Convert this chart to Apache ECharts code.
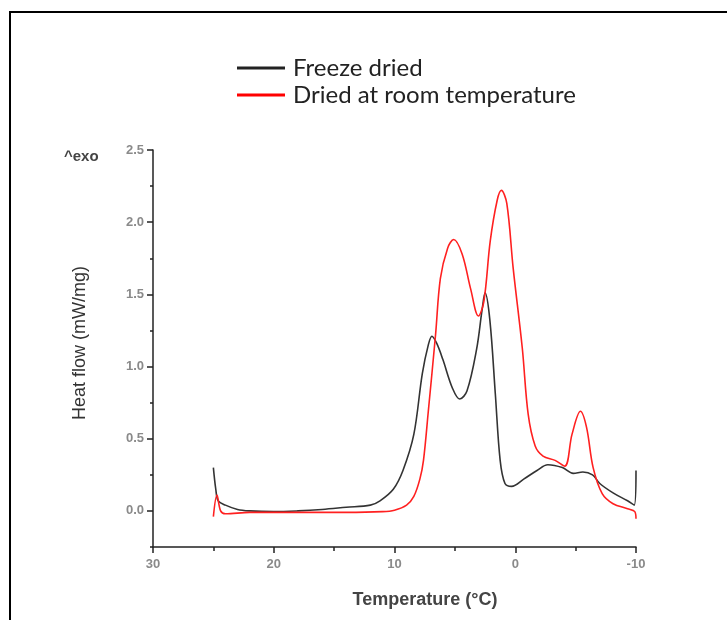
<!DOCTYPE html>
<html>
<head>
<meta charset="utf-8">
<script src="https://cdn.jsdelivr.net/npm/echarts@6/dist/echarts.min.js"></script>
<style>html,body{margin:0;padding:0;background:#fff}#c{width:727px;height:620px}</style>
</head>
<body>
<div id="c"></div>
<script>
// ---- data ----
var freezeT  = [25.0, 24.8, 24.6, 24.0, 23.0, 22.0, 20.0, 18.0, 16.0, 14.0, 12.0, 11.2, 10.1, 9.3, 8.4, 7.7, 7.2, 6.9, 6.5, 6.0, 5.2, 4.6, 4.0, 3.2, 2.75, 2.5, 2.1, 1.65, 1.25, 0.85, 0.3, -0.7, -1.8, -2.7, -3.9, -4.8, -5.6, -6.4, -7.0, -8.1, -9.3, -9.85, -10.0];
var freezeHF = [0.30, 0.15, 0.07, 0.04, 0.01, 0.0, -0.005, 0.0, 0.01, 0.025, 0.04, 0.07, 0.15, 0.28, 0.53, 0.95, 1.15, 1.21, 1.16, 1.05, 0.85, 0.775, 0.83, 1.12, 1.39, 1.51, 1.32, 0.81, 0.35, 0.19, 0.17, 0.22, 0.28, 0.32, 0.30, 0.26, 0.27, 0.25, 0.19, 0.125, 0.07, 0.04, 0.28];
var roomT  = [25.0, 24.7, 24.4, 24.0, 22.0, 18.0, 14.0, 11.0, 10.0, 9.0, 8.4, 7.9, 7.6, 7.2, 6.6, 6.2, 5.6, 5.1, 4.4, 3.7, 3.05, 2.6, 2.07, 1.5, 1.15, 0.7, 0.17, -0.58, -1.07, -1.65, -2.3, -3.3, -4.1, -4.7, -5.4, -5.9, -6.45, -7.2, -8.1, -9.3, -9.9, -10.0];
var roomHF = [-0.04, 0.11, 0.0, -0.02, -0.01, -0.01, -0.01, -0.005, 0.005, 0.04, 0.1, 0.22, 0.35, 0.69, 1.22, 1.61, 1.82, 1.88, 1.78, 1.54, 1.35, 1.45, 1.87, 2.15, 2.22, 2.13, 1.68, 1.13, 0.67, 0.45, 0.38, 0.35, 0.31, 0.53, 0.69, 0.58, 0.30, 0.12, 0.05, 0.015, -0.005, -0.055];
var seriesNames = ['Freeze dried', 'Dried at room temperature'];
var yMajor = [0, 0.5, 1.0, 1.5, 2.0, 2.5];
var yMinor = [-0.25, 0.25, 0.75, 1.25, 1.75, 2.25];

function pairs(xs, ys) { return xs.map(function (x, i) { return [x, ys[i]]; }); }

var chart = echarts.init(document.getElementById('c'), null, {renderer: 'canvas'});
var tickLabel = {color: '#8a8a8a', fontSize: 13, fontWeight: 'bold', fontFamily: 'Liberation Sans, Arial, sans-serif'};
chart.setOption({
  animation: false,
  backgroundColor: '#fff',
  grid: {left: 153, top: 150, right: 91, bottom: 73, containLabel: false},
  legend: {
    orient: 'vertical', left: 232, top: 51, itemGap: 3, padding: [5, 5, 5, 5],
    itemWidth: 48, itemHeight: 3, icon: 'rect',
    textStyle: {fontSize: 24, color: '#222', fontFamily: 'Lato, Open Sans, sans-serif', padding: [0, 0, 0, 3]},
    data: seriesNames
  },
  xAxis: {
    type: 'value', inverse: true, min: -10, max: 30, interval: 10,
    axisLine: {show: true, onZero: false, lineStyle: {color: '#222', width: 1.5}},
    axisTick: {show: true, length: 6, lineStyle: {color: '#222', width: 1.5}},
    minorTick: {show: true, splitNumber: 2, length: 4, lineStyle: {color: '#222', width: 1.5}},
    splitLine: {show: false},
    axisLabel: Object.assign({margin: 11, letterSpacing: 1.5}, tickLabel)
  },
  yAxis: [{
    type: 'value', min: -0.25, max: 2.5,
    axisLine: {show: true, onZero: false, lineStyle: {color: '#222', width: 1.5}},
    axisTick: {show: true, length: 6, customValues: yMajor, lineStyle: {color: '#222', width: 1.5}},
    splitLine: {show: false},
    axisLabel: Object.assign({margin: 9, customValues: yMajor, formatter: function (v) { return v.toFixed(1); }}, tickLabel)
  }, {
    type: 'value', min: -0.25, max: 2.5, position: 'left', offset: 0,
    axisLine: {show: false, onZero: false},
    axisTick: {show: true, length: 3, customValues: yMinor, lineStyle: {color: '#222', width: 1.5}},
    splitLine: {show: false},
    axisLabel: {show: false}
  }],
  series: [{
    name: seriesNames[0], type: 'line', data: pairs(freezeT, freezeHF),
    smooth: 0.35, showSymbol: false, symbol: 'none',
    lineStyle: {color: '#333', width: 1.6}, itemStyle: {color: '#222'}
  }, {
    name: seriesNames[1], type: 'line', data: pairs(roomT, roomHF),
    smooth: 0.35, showSymbol: false, symbol: 'none',
    lineStyle: {color: '#ff2020', width: 1.6}, itemStyle: {color: '#ff0000'}
  }],
  graphic: [
    {type: 'line', shape: {x1: 9, y1: 12, x2: 727, y2: 12}, style: {stroke: '#000', lineWidth: 2}},
    {type: 'line', shape: {x1: 10, y1: 12, x2: 10, y2: 620}, style: {stroke: '#000', lineWidth: 2}},
    {type: 'text', left: 64, top: 149, style: {text: '^exo', fontSize: 15, fontWeight: 'bold', fill: '#444', fontFamily: 'Liberation Sans, Arial, sans-serif'}},
    {type: 'text', x: 80, y: 343, rotation: Math.PI / 2, style: {text: 'Heat flow (mW/mg)', fontSize: 18, fill: '#333', align: 'center', verticalAlign: 'middle', fontFamily: 'Liberation Sans, Arial, sans-serif'}},
    {type: 'text', x: 425, y: 600, style: {text: 'Temperature (°C)', fontSize: 18, fontWeight: 'bold', fill: '#444', align: 'center', verticalAlign: 'middle', fontFamily: 'Liberation Sans, Arial, sans-serif', letterSpacing: 1.8}}
  ]
});
</script>
</body>
</html>
